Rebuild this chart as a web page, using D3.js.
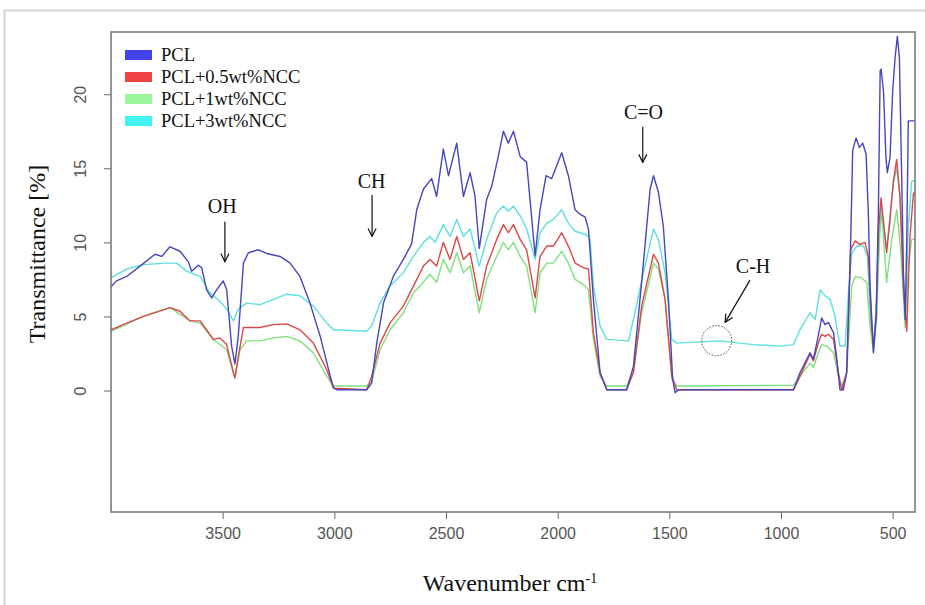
<!DOCTYPE html>
<html>
<head>
<meta charset="utf-8">
<script src="https://cdn.jsdelivr.net/npm/d3@7/dist/d3.min.js"></script>
<style>
body { margin: 0; background: #fff; }
svg { display: block; }
</style>
</head>
<body>
<svg width="925" height="605"></svg>
<script>
// FTIR spectra: [wavenumber cm-1, transmittance %]
var pcl = [[4000,7.0],[3975,7.4],[3930,7.7],[3870,8.4],[3803,9.2],[3773,9.05],[3736,9.7],[3691,9.4],[3654,8.7],
  [3639,8.05],[3609,8.45],[3594,8.3],[3572,6.8],[3549,6.25],[3527,6.8],[3497,7.4],[3482,6.8],[3460,3.0],[3445,1.8],
  [3430,3.7],[3407,8.6],[3385,9.3],[3340,9.5],[3303,9.25],[3243,9.05],[3198,8.6],[3154,7.7],[3109,5.9],[3064,3.7],
  [3019,1.0],[3004,0.2],[2989,0.05],[2855,0.05],[2833,0.5],[2810,3.2],[2780,5.9],[2736,7.7],[2691,8.85],[2654,9.9],
  [2631,12.2],[2601,13.6],[2564,14.3],[2542,13.1],[2512,16.3],[2489,14.5],[2452,16.7],[2422,13.1],[2392,14.7],
  [2370,13.1],[2351,9.6],[2318,12.9],[2295,13.8],[2266,15.8],[2243,17.5],[2221,16.7],[2198,17.5],[2168,15.8],
  [2139,15.4],[2101,9.1],[2079,12.2],[2052,14.5],[2027,14.3],[1982,16.05],[1952,14.5],[1922,12.2],[1900,11.9],
  [1877,11.7],[1862,10.9],[1840,6.15],[1810,1.2],[1780,0.05],[1691,0.05],[1661,1.6],[1624,7.3],[1586,13.6],
  [1571,14.5],[1549,13.4],[1527,11.1],[1504,6.15],[1485,0.75],[1474,-0.15],[1460,0.05],[1004,0.05],[944,0.05],
  [915,1.2],[870,2.55],[855,2.1],[833,3.7],[818,4.9],[803,4.45],[788,4.6],[765,3.9],[750,2.1],[736,0.05],[721,0.05],
  [706,1.2],[688,10],[679,16.2],[664,17.05],[649,16.4],[634,16.7],[619,15.95],[609,12],[601,7],[586,2.55],[574,5],
  [564,12],[556,21.6],[552,21.7],[541,20.2],[530,15.7],[524,14.7],[512,15.7],[500,20.2],[489,22.5],[479,23.9],
  [470,22.5],[459,14],[452,8],[444,4.8],[437,10],[430,18.2],[407,18.2],[400,18.2]];

var pcl05 = [[4000,4.1],[3930,4.55],[3855,5.0],[3736,5.6],[3691,5.35],[3646,4.7],[3601,4.7],[3572,4.1],[3542,3.45],
  [3512,3.55],[3482,3.1],[3452,1.2],[3445,0.85],[3430,2.3],[3407,4.25],[3333,4.25],[3273,4.45],[3213,4.5],[3154,4.1],
  [3094,3.2],[3034,1.4],[3004,0.15],[2855,0.05],[2833,0.95],[2795,3.2],[2751,4.55],[2691,5.7],[2646,7.05],[2601,8.4],
  [2572,8.85],[2542,8.4],[2512,10.0],[2482,8.85],[2452,10.4],[2422,8.85],[2392,9.3],[2351,6.05],[2318,8.4],[2273,10.2],
  [2243,11.2],[2221,10.65],[2198,11.2],[2168,10.2],[2139,9.5],[2101,6.25],[2079,9.05],[2049,9.75],[2019,9.75],
  [1982,10.65],[1952,9.75],[1922,8.6],[1885,8.3],[1862,8.2],[1840,3.9],[1810,1.2],[1780,0.05],[1691,0.05],[1661,1.2],
  [1624,5.7],[1571,9.2],[1549,8.6],[1519,6.15],[1489,1.0],[1467,0.05],[1004,0.05],[944,0.05],[915,0.95],[870,2.45],
  [855,2.0],[833,3.2],[818,3.8],[803,3.65],[788,3.8],[765,3.45],[743,1.2],[728,0.05],[706,1.2],[688,9.5],[668,10.1],
  [646,9.85],[624,10.0],[609,9.05],[594,4.35],[586,3.0],[574,5.0],[564,10.65],[552,13.0],[527,9.3],[512,11.5],
  [497,14.1],[482,15.6],[467,13.0],[452,7],[437,4.0],[422,10.5],[407,13.3],[400,13.4]];

var pcl1 = [[4000,4.0],[3855,5.0],[3736,5.6],[3646,4.7],[3601,4.55],[3542,3.45],[3482,2.75],[3445,0.85],[3422,2.75],
  [3393,3.35],[3333,3.35],[3273,3.55],[3213,3.65],[3154,3.35],[3094,2.55],[3034,0.95],[3004,0.3],[2855,0.3],[2833,0.6],
  [2795,2.75],[2751,4.1],[2691,5.25],[2646,6.6],[2616,7.05],[2572,7.85],[2542,7.3],[2512,8.85],[2482,7.95],[2452,9.3],
  [2422,7.95],[2392,8.4],[2351,5.25],[2318,7.5],[2273,9.05],[2243,10.0],[2221,9.5],[2198,10.0],[2168,9.05],[2139,8.4],
  [2101,5.25],[2079,7.95],[2049,8.6],[2019,8.6],[1982,9.4],[1952,8.6],[1922,7.5],[1885,7.15],[1862,6.8],[1840,3.45],
  [1810,0.95],[1780,0.3],[1691,0.3],[1661,1.2],[1624,5.25],[1571,8.6],[1549,8.2],[1519,6.15],[1489,0.75],[1467,0.3],
  [1004,0.35],[944,0.35],[915,0.95],[870,1.85],[855,1.55],[833,2.55],[818,3.1],[795,3.0],[765,2.55],[743,0.95],
  [728,0.3],[706,1.2],[683,7.05],[668,7.7],[639,7.6],[616,7.3],[601,4.35],[586,2.55],[571,5.0],[559,10.65],[549,12.0],
  [527,7.3],[504,10.2],[482,12.2],[464,9.5],[444,4.25],[430,8.4],[415,10.2],[400,10.2]];

var pcl3 = [[4000,7.6],[3930,8.2],[3855,8.5],[3751,8.6],[3706,8.6],[3661,8.05],[3601,7.7],[3557,6.6],[3512,6.0],
  [3482,5.5],[3452,4.7],[3430,5.5],[3393,5.9],[3333,5.8],[3273,6.15],[3213,6.5],[3154,6.4],[3094,5.7],[3034,4.55],
  [3004,4.1],[2855,4.0],[2833,4.35],[2795,5.9],[2751,7.05],[2691,7.95],[2646,9.05],[2601,10.0],[2572,10.4],[2549,10.0],
  [2512,11.2],[2482,10.4],[2452,11.55],[2422,10.4],[2392,10.9],[2351,8.4],[2318,10.2],[2273,12.0],[2243,12.45],
  [2221,12.1],[2198,12.45],[2168,11.8],[2139,10.9],[2101,8.85],[2079,10.65],[2049,11.3],[2019,11.55],[1982,12.2],
  [1952,11.3],[1922,10.75],[1900,10.65],[1870,10.5],[1855,10.2],[1840,7.05],[1810,4.35],[1780,3.45],[1683,3.35],
  [1654,5.25],[1616,7.95],[1571,10.9],[1549,10.2],[1519,7.95],[1489,3.45],[1467,3.2],[1273,3.35],[1124,3.1],
  [1004,3.0],[944,3.1],[915,4.1],[870,5.25],[847,4.8],[825,6.8],[803,6.4],[780,6.15],[758,5.0],[736,3.0],[713,3.0],
  [698,6.6],[683,9.3],[661,9.75],[631,9.75],[613,9.05],[598,4.35],[586,3.0],[571,6.15],[552,12.5],[527,9.6],
  [497,14.0],[482,15.0],[467,13.2],[444,4.6],[430,11],[415,14.1],[400,14.2]];

var seriesNames = ["PCL", "PCL+0.5wt%NCC", "PCL+1wt%NCC", "PCL+3wt%NCC"];
var xTicks = [3500, 3000, 2500, 2000, 1500, 1000, 500];
var yTicks = [0, 5, 10, 15, 20];

// labels on the bands: text position, arrow start/end (wavenumber, %)
var bandLabels = [
  {text: "OH",  tx: 3502, ty: 12.0, x1: 3490, y1: 11.4, x2: 3490, y2: 8.7},
  {text: "CH",  tx: 2833, ty: 13.7, x1: 2831, y1: 13.2, x2: 2831, y2: 10.4},
  {text: "C=O", tx: 1616, ty: 18.3, x1: 1619, y1: 17.8, x2: 1619, y2: 15.4},
  {text: "C-H", tx: 1125, ty: 7.9,  x1: 1139, y1: 7.45, x2: 1250, y2: 4.6}
];
var circleSpot = [1288, 3.37];

var lineColors = ["#4747bd", "#dd4747", "#80e080", "#5ce0e0"];
var boxColors = ["#4343ee", "#ee4343", "#9bf59b", "#43f3f3"];

var svg = d3.select("svg");
var pLeft = 111, pTop = 32, pRight = 915, pBottom = 512;

// outer frame
svg.append("rect").attr("x", 4.5).attr("y", 10.5).attr("width", 940).attr("height", 620)
  .attr("fill", "none").attr("stroke", "#d4d4d4").attr("stroke-width", 2);

var x = d3.scaleLinear().domain([4000, 400]).range([pLeft, pRight]);
var y = d3.scaleLinear().domain([-8.2, 24.2]).range([pBottom, pTop]);

var line = d3.line()
  .x(function(d){ return x(d[0]); })
  .y(function(d){ return y(d[1]); });

var defs = svg.append("defs");
defs.append("clipPath").attr("id", "plotclip")
  .append("rect").attr("x", pLeft).attr("y", pTop).attr("width", pRight - pLeft).attr("height", pBottom - pTop);

var all = [pcl, pcl05, pcl1, pcl3];
var drawOrder = [3, 2, 1, 0];

svg.append("g")
  .attr("clip-path", "url(#plotclip)")
  .selectAll("path")
  .data(drawOrder)
  .enter()
  .append("path")
  .attr("d", function(i){ return line(all[i]); })
  .attr("fill", "none")
  .attr("stroke", function(i){ return lineColors[i]; })
  .attr("stroke-width", 1.4)
  .attr("stroke-linejoin", "round");

// axes
var xAxis = svg.append("g")
  .attr("transform", "translate(0," + pBottom + ")")
  .call(d3.axisBottom(x).tickValues(xTicks).tickSize(7).tickPadding(9).tickFormat(function(d){ return d; }));
var yAxis = svg.append("g")
  .attr("transform", "translate(" + pLeft + ",0)")
  .call(d3.axisLeft(y).tickValues(yTicks).tickSize(7).tickFormat(function(d){ return d; }));

[xAxis, yAxis].forEach(function(a){
  a.select(".domain").remove();
  a.selectAll(".tick line").attr("stroke", "#666");
  a.selectAll(".tick text").attr("fill", "#555").style("font-family", "'Liberation Sans', Arial, sans-serif")
    .style("font-size", "16px");
});
yAxis.selectAll(".tick text")
  .attr("transform", "rotate(-90)")
  .attr("x", 0).attr("y", -25).attr("dy", 0)
  .attr("text-anchor", "middle");

// plot box
svg.append("rect").attr("x", pLeft).attr("y", pTop).attr("width", pRight - pLeft).attr("height", pBottom - pTop)
  .attr("fill", "none").attr("stroke", "#7a7a7a").attr("stroke-width", 1.6);

// axis titles
var serif = "'Liberation Serif', 'Times New Roman', serif";
var xt = svg.append("text").attr("x", 510).attr("y", 591).attr("text-anchor", "middle")
  .style("font-family", serif).style("font-size", "24px").attr("fill", "#111");
xt.append("tspan").text("Wavenumber cm");
xt.append("tspan").attr("dy", -8).style("font-size", "14px").text("-1");

svg.append("text")
  .attr("transform", "translate(45,254) rotate(-90)")
  .attr("text-anchor", "middle")
  .style("font-family", serif).style("font-size", "24px").attr("fill", "#111")
  .text("Transmittance [%]");

// legend
var legend = svg.append("g").selectAll("g").data(seriesNames).enter().append("g")
  .attr("transform", function(d, i){ return "translate(125," + (50 + i * 22) + ")"; });
legend.append("rect").attr("width", 27).attr("height", 10)
  .attr("fill", function(d, i){ return boxColors[i]; });
legend.append("text").attr("x", 36).attr("y", 10.5)
  .style("font-family", serif).style("font-size", "18.5px").attr("fill", "#111")
  .text(function(d){ return d; });

// band annotations
defs.append("marker").attr("id", "head").attr("viewBox", "0 0 10 10")
  .attr("refX", 9).attr("refY", 5).attr("markerWidth", 10).attr("markerHeight", 10)
  .attr("orient", "auto").attr("markerUnits", "userSpaceOnUse")
  .append("path").attr("d", "M1,1 L9,5 L1,9").attr("fill", "none").attr("stroke", "#111").attr("stroke-width", 1.2);

var ann = svg.append("g").selectAll("g").data(bandLabels).enter().append("g");
ann.append("text")
  .attr("x", function(d){ return x(d.tx); })
  .attr("y", function(d){ return y(d.ty); })
  .attr("text-anchor", "middle")
  .style("font-family", serif).style("font-size", "20px").attr("fill", "#111")
  .text(function(d){ return d.text; });
ann.append("line")
  .attr("x1", function(d){ return x(d.x1); }).attr("y1", function(d){ return y(d.y1); })
  .attr("x2", function(d){ return x(d.x2); }).attr("y2", function(d){ return y(d.y2); })
  .attr("stroke", "#111").attr("stroke-width", 1.2).attr("marker-end", "url(#head)");

svg.append("circle")
  .attr("cx", x(circleSpot[0])).attr("cy", y(circleSpot[1])).attr("r", 15)
  .attr("fill", "none").attr("stroke", "#444").attr("stroke-width", 1).attr("stroke-dasharray", "1.5,1.5");
</script>
</body>
</html>
